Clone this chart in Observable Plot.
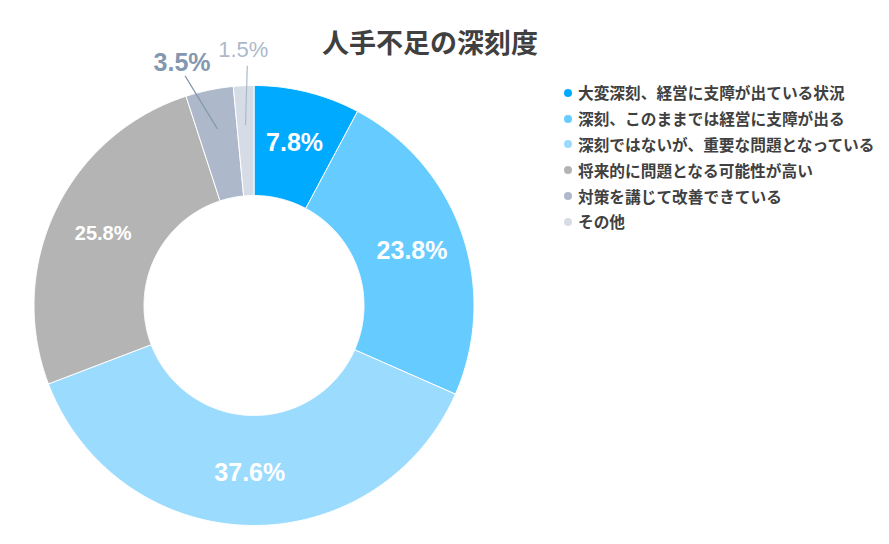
<!DOCTYPE html>
<html><head><meta charset="utf-8">
<script src="https://cdn.jsdelivr.net/npm/d3@7"></script>
<script src="https://cdn.jsdelivr.net/npm/@observablehq/plot@0.6"></script>
<style>
body{margin:0;background:#fff;}
#wrap{position:relative;width:889px;height:544px;overflow:hidden;}
#title{position:absolute;left:0;width:860px;text-align:center;top:24px;font-family:"Noto Sans CJK JP";font-weight:bold;font-size:27px;color:#404040;line-height:36px;}
#legend{position:absolute;left:564px;top:80px;font-family:"Noto Sans CJK JP";font-weight:bold;font-size:15.7px;color:#404040;}
.row{height:25.8px;display:flex;align-items:center;white-space:nowrap;}
.dot{width:8px;height:8px;border-radius:50%;margin-right:6px;flex:none;}
#chart{position:absolute;left:0;top:0;}
</style></head>
<body><div id="wrap"><div id="chart"></div><div id="title"></div><div id="legend"></div></div>
<script>
const title = "人手不足の深刻度";
const categories = [
  "大変深刻、経営に支障が出ている状況",
  "深刻、このままでは経営に支障が出る",
  "深刻ではないが、重要な問題となっている",
  "将来的に問題となる可能性が高い",
  "対策を講じて改善できている",
  "その他"
];
const values = [7.8, 23.8, 37.6, 25.8, 3.5, 1.5];
const colors = ["#00AAFF", "#66CCFF", "#9BDCFE", "#B4B4B4", "#ADB9CA", "#D6DCE5"];

// layout (not data)
const innerRatio = 0.5;
const labelRadius = 0.76;
const outsideLayout = { 4: {dA: -5, dx: -3, dy: -13, color: "#8497B0", weight: "bold", size: 25},
                        5: {dA: 1.1, dx: -4, dy: -16, color: "#ADB9CA", weight: "normal", size: 22} };
const insideSize = {0: 25, 1: 25, 2: 25, 3: 20};

const total = d3.sum(values);
let acc = 0;
const slices = values.map((v, i) => {
  const a0 = acc / total * 2 * Math.PI; acc += v;
  const a1 = acc / total * 2 * Math.PI;
  return {i, cat: categories[i], v, a0, a1, mid: (a0 + a1) / 2, label: v.toFixed(1) + "%"};
});
const pts = [];
for (const s of slices) {
  const n = Math.max(2, Math.ceil((s.a1 - s.a0) * 180 / Math.PI * 2));
  const poly = [];
  for (let k = 0; k <= n; k++) { const a = s.a0 + (s.a1 - s.a0) * k / n; poly.push({cat: s.cat, x: Math.sin(a), y: Math.cos(a)}); }
  for (let k = n; k >= 0; k--) { const a = s.a0 + (s.a1 - s.a0) * k / n; poly.push({cat: s.cat, x: innerRatio * Math.sin(a), y: innerRatio * Math.cos(a)}); }
  poly.push(poly[0]);
  pts.push(...poly);
}
const inside = slices.filter(s => !(s.i in outsideLayout)).map(s => ({...s, x: labelRadius * Math.sin(s.mid), y: labelRadius * Math.cos(s.mid), size: insideSize[s.i]}));
const outside = slices.filter(s => s.i in outsideLayout).map(s => {
  const L = outsideLayout[s.i];
  const e = s.mid + L.dA * Math.PI / 180;
  return {...s, ...L, x1: 0.82 * Math.sin(s.mid), y1: 0.82 * Math.cos(s.mid), x2: 1.09 * Math.sin(e), y2: 1.09 * Math.cos(e)};
});

const marks = [
  Plot.line(pts, {x: "x", y: "y", z: "cat", fill: "cat", stroke: "white", strokeWidth: 1, curve: "linear"}),
  Plot.link(outside, {x1: "x1", y1: "y1", x2: "x2", y2: "y2", stroke: d => d.color, strokeWidth: 1.2})
];
for (const d of inside) {
  marks.push(Plot.text([d], {x: "x", y: "y", text: "label", fill: "white", fontSize: d.size, fontWeight: "bold", fontFamily: "Liberation Sans, Arial, sans-serif"}));
}
for (const d of outside) {
  marks.push(Plot.text([d], {x: "x2", y: "y2", dx: d.dx, dy: d.dy, text: "label", fill: d.color, fontSize: d.size, fontWeight: d.weight, fontFamily: "Liberation Sans, Arial, sans-serif"}));
}

const chart = Plot.plot({
  width: 889, height: 544, margin: 0,
  x: {domain: [-1, 1], range: [33.5, 473.5], axis: null},
  y: {domain: [-1, 1], range: [525, 85], axis: null},
  color: {type: "ordinal", domain: categories, range: colors},
  style: {background: "white"},
  marks
});
document.getElementById("chart").appendChild(chart);
document.getElementById("title").textContent = title;
const leg = document.getElementById("legend");
categories.forEach((c, i) => {
  const r = document.createElement("div"); r.className = "row";
  const dot = document.createElement("span"); dot.className = "dot"; dot.style.background = colors[i];
  const t = document.createElement("span"); t.textContent = c;
  r.appendChild(dot); r.appendChild(t); leg.appendChild(r);
});
</script></body></html>
